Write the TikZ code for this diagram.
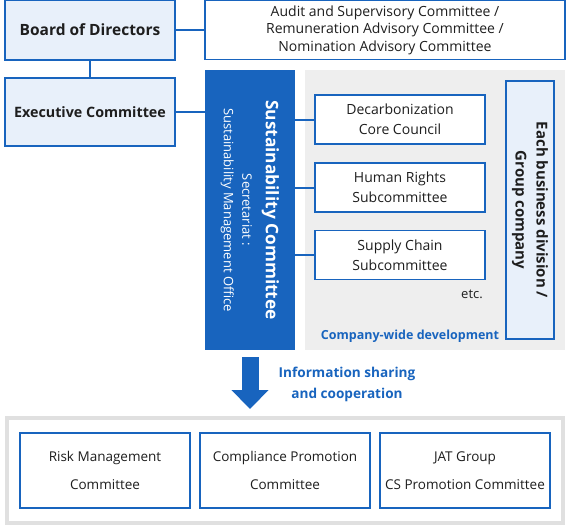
\documentclass[tikz,border=0pt]{standalone}
\usepackage{fontspec}
\setmainfont{Open Sans}
\usetikzlibrary{arrows.meta,positioning}
\definecolor{corpblue}{RGB}{24,100,190}
\definecolor{paleblue}{RGB}{232,240,250}
\definecolor{panelgrey}{RGB}{238,238,238}
\definecolor{framegrey}{RGB}{224,224,224}
\definecolor{ink}{RGB}{30,30,30}

\begin{document}
\begin{tikzpicture}[x=1pt, y=-1pt,
  box/.style={draw=corpblue, line width=1.4pt, fill=white, align=center,
              text=ink, inner sep=0pt, font=\fontsize{14}{20}\selectfont},
  headbox/.style={box, fill=paleblue, minimum width=170pt,
                  font=\bfseries\fontsize{15.5}{19}\selectfont},
  subbox/.style={box, minimum width=170pt, minimum height=49pt},
  bottombox/.style={box, minimum width=170pt, minimum height=75pt,
                    font=\fontsize{13.5}{28}\selectfont},
  bluenote/.style={text=corpblue, align=center, font=\bfseries\fontsize{13.6}{21}\selectfont},
  link/.style={draw=corpblue, line width=2pt},
  bigarrow/.style={draw=corpblue, line width=17pt,
                   -{Triangle[width=36pt, length=19pt]}}]

\useasboundingbox (0,0) rectangle (570,530);

% upper governance
\node[headbox, minimum height=60pt] (board) at (90,30) {Board of Directors};
\node[box, minimum width=360pt, minimum height=59pt,
      font=\fontsize{14}{17.5}\selectfont] (audit) at (385,30)
  {Audit and Supervisory Committee /\\Remuneration Advisory Committee /\\Nomination Advisory Committee};
\node[headbox, minimum height=68pt, font=\bfseries\fontsize{14.3}{18}\selectfont] (exec) at (90,112) {Executive Committee};

% sustainability committee and company-wide panel
\node[fill=panelgrey, minimum width=260pt, minimum height=280pt] (panel) at (435,210) {};
\node[fill=corpblue, minimum width=90pt, minimum height=280pt] (sust) at (250,210) {};
\node[rotate=-90, text=white, align=center, font=\fontsize{13}{18.5}\selectfont] (sustlabel) at (sust.center)
  {{\bfseries\fontsize{17.3}{20}\selectfont Sustainability Committee}\\[5pt]
   Secretariat :\\Sustainability Management Office};

\node[subbox] (decarb) at (400,119.5) {Decarbonization\\Core Council};
\node[subbox] (rights) at (400,187.5) {Human Rights\\Subcommittee};
\node[subbox] (supply) at (400,255) {Supply Chain\\Subcommittee};
\node[text=ink, font=\fontsize{13}{16}\selectfont] (etc) at (472,294) {etc.};
\node[bluenote, font=\bfseries\fontsize{12.5}{15}\selectfont] (wide) at (410,336) {Company-wide development};

\node[box, fill=paleblue, minimum width=48pt, minimum height=258pt] (division) at (530,210) {};
\node[rotate=-90, text=ink, align=center, font=\bfseries\fontsize{15}{21}\selectfont] (divlabel) at (division.center)
  {Each business division /\\Group company};

% connectors
\draw[link] (board.east) -- (audit.west);
\draw[link] (board.south) -- (exec.north);
\draw[link] (exec.east) -- (exec.east -| sust.west);
\draw[link] (decarb.west -| sust.east) -- (decarb.west);
\draw[link] (rights.west -| sust.east) -- (rights.west);
\draw[link] (supply.west -| sust.east) -- (supply.west);

% related committees
\node[draw=framegrey, line width=4pt, fill=white, minimum width=556pt, minimum height=105pt] (frame) at (285,470.5) {};
\node[bottombox] (risk) at (105,470.5) {Risk Management\\Committee};
\node[bottombox] (compliance) at (285,470.5) {Compliance Promotion\\Committee};
\node[bottombox] (jat) at (465,470.5) {JAT Group\\CS Promotion Committee};

\draw[bigarrow, shorten <=7pt, shorten >=7pt] (sust.south) -- (frame.north -| sust.south);
\node[bluenote] (sharing) at (347,384) {Information sharing\\and cooperation};
\end{tikzpicture}
\end{document}
